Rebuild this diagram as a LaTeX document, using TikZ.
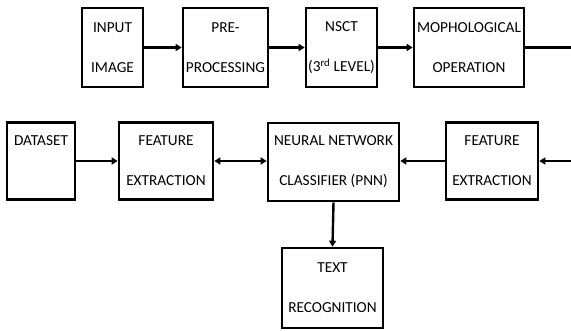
\documentclass[tikz,border=0pt]{standalone}
\usepackage{fontspec}
\setmainfont{Carlito}
\usetikzlibrary{arrows.meta}
\begin{document}
\begin{tikzpicture}[x=1pt,y=-1pt,
  blk/.style={draw=black,line width=2.6pt,inner sep=0pt,align=center,
    font=\fontsize{15.3}{40}\selectfont},
  con/.style={line width=2.4pt,-{Triangle[length=6pt,width=7pt]}},
  plain/.style={line width=2.4pt}]
\useasboundingbox (0,0) rectangle (571,331);
% top row
\node[blk,minimum width=61pt,minimum height=79pt] (inp) at (112.5,47.5) {INPUT\\IMAGE};
\node[blk,minimum width=85pt,minimum height=79pt] (pre) at (225.5,47.5) {PRE-\\PROCESSING};
\node[blk,minimum width=71pt,minimum height=79pt] (nsct) at (341.5,47.5) {NSCT\\(3\textsuperscript{rd} LEVEL)};
\node[blk,minimum width=110pt,minimum height=79pt] (mor) at (469,47.5) {MOPHOLOGICAL\\OPERATION};
% second row
\node[blk,minimum width=68pt,minimum height=77pt] (ds) at (41,161) {DATASET\\\phantom{DATASET}};
\node[blk,minimum width=94pt,minimum height=77pt] (fel) at (166,161) {FEATURE\\EXTRACTION};
\node[blk,minimum width=131pt,minimum height=78pt] (nn) at (333.5,162) {NEURAL NETWORK\\CLASSIFIER (PNN)};
\node[blk,minimum width=92pt,minimum height=77pt] (fer) at (492,161) {FEATURE\\EXTRACTION};
% bottom
\node[blk,minimum width=101pt,minimum height=80pt] (txt) at (332.5,288) {TEXT\\RECOGNITION};
% connectors
\coordinate (r1) at (571,47.5);
\coordinate (r2) at (571,161);
\draw[con,line width=3.2pt] (inp.east) -- (pre.west);
\draw[con] (pre.east) -- (nsct.west);
\draw[con] (nsct.east) -- (mor.west);
\draw[plain] (mor.east) -- (r1);
\draw[con] (r2) -- (fer.east);
\draw[con] (fer.west) -- (nn.east |- fer.west);
\draw[con,{Triangle[length=6pt,width=7pt]}-{Triangle[length=6pt,width=7pt]}] (fel.east) -- (nn.west |- fel.east);
\draw[con] (ds.east) -- (fel.west);
\draw[con] (nn.south) -- (txt.north);
\end{tikzpicture}
\end{document}
